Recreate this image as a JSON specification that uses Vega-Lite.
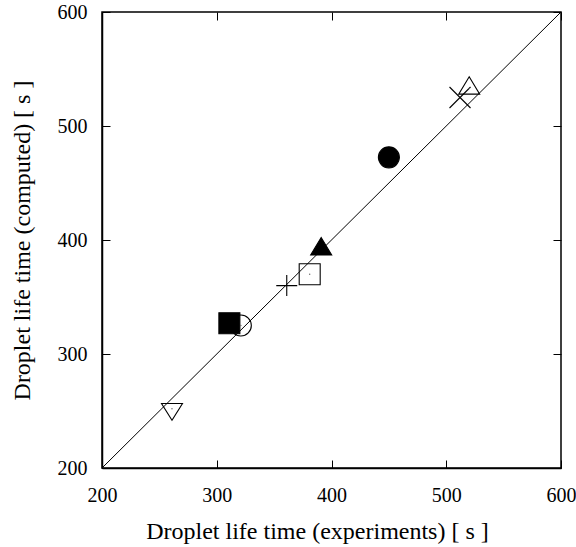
{
  "$schema": "https://vega.github.io/schema/vega-lite/v6.json",
  "width": 459,
  "height": 456,
  "autosize": {"type": "none"},
  "padding": {"left": 102, "top": 12, "right": 15, "bottom": 79},
  "background": "white",
  "config": {
    "view": {"stroke": "black", "strokeWidth": 1.5},
    "font": "Liberation Serif",
    "axis": {
      "grid": false,
      "domainColor": "black",
      "domainWidth": 1.5,
      "tickColor": "black",
      "tickWidth": 1,
      "tickSize": -8,
      "labelFlush": false,
      "labelColor": "black",
      "labelFont": "Liberation Serif",
      "labelFontSize": 20,
      "titleFont": "Liberation Serif",
      "titleFontSize": 24,
      "titleFontWeight": "normal",
      "titleColor": "black"
    }
  },
  "datasets": {
    "diag": [{"e": 200, "c": 200}, {"e": 600, "c": 600}],
    "pts": [
      {"case": "A", "e": 261, "c": 252},
      {"case": "B", "e": 311, "c": 327},
      {"case": "C", "e": 321, "c": 325},
      {"case": "D", "e": 361, "c": 360},
      {"case": "E", "e": 381, "c": 370},
      {"case": "F", "e": 391, "c": 392},
      {"case": "G", "e": 450, "c": 472.5},
      {"case": "H", "e": 512, "c": 525},
      {"case": "I", "e": 520, "c": 533}
    ]
  },
  "layer": [
    {
      "data": {"name": "diag"},
      "mark": {"type": "line", "color": "black", "strokeWidth": 1, "clip": true},
      "encoding": {
        "x": {"field": "e", "type": "quantitative", "scale": {"domain": [200, 600], "nice": false, "zero": false},
          "axis": {"orient": "bottom", "values": [200, 300, 400, 500, 600], "title": "Droplet life time (experiments) [ s ]", "labelPadding": 25, "titlePadding": 14, "titleX": 215}},
        "y": {"field": "c", "type": "quantitative", "scale": {"domain": [200, 600], "nice": false, "zero": false},
          "axis": {"orient": "left", "values": [200, 300, 400, 500, 600], "title": "Droplet life time (computed) [ s ]", "labelPadding": 23, "titlePadding": 23}}
      }
    },
    {
      "data": {"name": "pts"},
      "mark": {"type": "point", "strokeWidth": 1.1, "stroke": "black", "opacity": 1},
      "encoding": {
        "x": {"field": "e", "type": "quantitative", "scale": {"domain": [200, 600], "nice": false, "zero": false},
          "axis": {"orient": "top", "values": [200, 300, 400, 500, 600], "labels": false, "title": null, "domain": false}},
        "y": {"field": "c", "type": "quantitative", "scale": {"domain": [200, 600], "nice": false, "zero": false},
          "axis": {"orient": "right", "values": [200, 300, 400, 500, 600], "labels": false, "title": null, "domain": false}},
        "shape": {"field": "case", "type": "nominal", "legend": null,
          "scale": {"domain": ["A", "B", "C", "D", "E", "F", "G", "H", "I"],
            "range": ["M-1,-0.5L1,-0.5L0,1.1Z", "square", "circle", "M-1,0L1,0M0,-1L0,1", "square", "M0,-1.1L1,0.55L-1,0.55Z", "circle", "M-1,-1L1,1M-1,1L1,-1", "M0,-1.1L1,0.55L-1,0.55Z"]}},
        "fill": {"field": "case", "type": "nominal", "legend": null,
          "scale": {"domain": ["A", "B", "C", "D", "E", "F", "G", "H", "I"],
            "range": ["transparent", "black", "transparent", "transparent", "transparent", "black", "black", "transparent", "transparent"]}},
        "size": {"field": "case", "type": "ordinal", "legend": null,
          "scale": {"domain": ["A", "B", "C", "D", "E", "F", "G", "H", "I"],
            "range": [440, 441, 441, 420, 441, 400, 484, 420, 440]}}
      }
    },
    {
      "data": {"name": "pts"},
      "transform": [{"filter": {"field": "case", "oneOf": ["A", "C", "E", "I"]}}],
      "mark": {"type": "point", "filled": true, "color": "#666666", "size": 2, "opacity": 1},
      "encoding": {
        "x": {"field": "e", "type": "quantitative", "axis": null},
        "y": {"field": "c", "type": "quantitative", "axis": null}
      }
    }
  ],
  "resolve": {"axis": {"x": "independent", "y": "independent"}}
}
